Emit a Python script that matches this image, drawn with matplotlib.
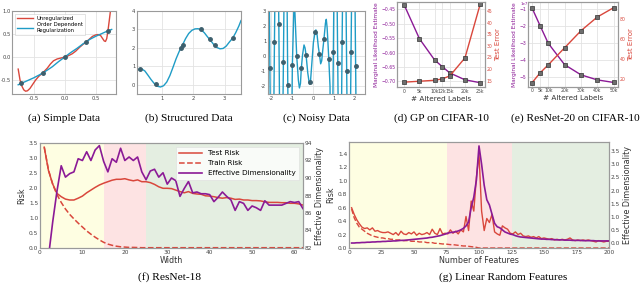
import matplotlib
matplotlib.use("Agg")
import matplotlib.pyplot as plt
import numpy as np
from matplotlib.ticker import FuncFormatter

# colours
RED = "#d9473c"
BLUE = "#1f9cc6"
PURPLE = "#8b1a96"
DOT = "#3d5f6d"
SPINE = "#9a9a9a"

# (a) simple data
a_pts_x = [-0.70, -0.35, 0.0, 0.35, 0.70]
a_pts_y = [-0.57, -0.34, 0.0, 0.33, 0.57]
a_red_x = [-0.75, -0.72, -0.69, -0.66, -0.63, -0.60, -0.56, -0.52, -0.47, -0.42, -0.37, -0.33,
           -0.28, -0.23, -0.18, -0.12, -0.06, 0.0, 0.06, 0.12, 0.18, 0.24, 0.30, 0.35, 0.40,
           0.45, 0.50, 0.54, 0.58, 0.61, 0.64, 0.66, 0.68, 0.70, 0.72, 0.74, 0.75]
a_red_y = [-0.26, -0.50, -0.63, -0.71, -0.74, -0.73, -0.68, -0.60, -0.50, -0.42, -0.36, -0.31,
           -0.24, -0.15, -0.08, -0.04, -0.02, 0.0, 0.03, 0.07, 0.13, 0.21, 0.28, 0.33, 0.39,
           0.45, 0.48, 0.49, 0.47, 0.41, 0.35, 0.34, 0.40, 0.57, 0.78, 1.0, 1.15]
a_blue_x = [-0.75, -0.70, -0.60, -0.50, -0.40, -0.35, -0.30, -0.20, -0.10, 0.0, 0.10, 0.20,
            0.30, 0.35, 0.40, 0.50, 0.60, 0.70, 0.76]
a_blue_y = [-0.60, -0.57, -0.51, -0.45, -0.38, -0.34, -0.30, -0.21, -0.10, 0.0, 0.10, 0.19,
            0.29, 0.33, 0.38, 0.45, 0.51, 0.57, 0.60]

# (b) structured data
b_pts_x = [0.30, 0.80, 1.60, 1.66, 2.23, 2.52, 2.68, 3.25]
b_pts_y = [0.88, 0.05, 1.97, 2.15, 3.00, 2.47, 2.13, 2.52]
b_curve_x = [0.2, 0.25, 0.3, 0.35, 0.45, 0.55, 0.65, 0.75, 0.85, 0.95, 1.05, 1.15, 1.25, 1.35,
             1.45, 1.55, 1.65, 1.75, 1.85, 1.95, 2.05, 2.15, 2.25, 2.35, 2.45, 2.55, 2.65,
             2.75, 2.85, 2.95, 3.05, 3.15, 3.25, 3.35, 3.45, 3.52]
b_curve_y = [0.76, 0.83, 0.87, 0.86, 0.75, 0.52, 0.28, 0.07, -0.08, -0.12, -0.05, 0.15, 0.5,
             0.95, 1.42, 1.82, 2.15, 2.5, 2.78, 2.95, 3.03, 3.04, 2.98, 2.82, 2.6, 2.4, 2.18,
             2.02, 1.95, 1.97, 2.1, 2.32, 2.52, 2.82, 3.18, 3.48]

# (c) noisy data
c_pts_x = [-2.07, -1.85, -1.64, -1.42, -1.21, -0.99, -0.78, -0.56, -0.33, -0.12, 0.10, 0.31,
           0.53, 0.76, 0.98, 1.19, 1.40, 1.62, 1.83, 2.05]
c_pts_y = [-0.77, 0.95, 2.15, -0.40, -1.91, -0.59, 0.0, -0.81, 0.07, -1.69, 1.60, 0.15, 1.16,
           -0.15, 0.29, -0.44, 0.95, -0.99, 0.29, -0.66]
c_curve_x = [-2.16, -2.07, -1.96, -1.85, -1.75, -1.64, -1.53, -1.42, -1.31, -1.21, -1.10,
             -0.99, -0.90, -0.78, -0.70, -0.65, -0.60, -0.56, -0.50, -0.43, -0.38, -0.33,
             -0.25, -0.17, -0.12, -0.05, 0.02, 0.10, 0.14, 0.20, 0.26, 0.31, 0.37, 0.42,
             0.47, 0.53, 0.60, 0.64, 0.68, 0.72, 0.76, 0.82, 0.87, 0.98, 1.08, 1.19, 1.30,
             1.40, 1.51, 1.62, 1.72, 1.83, 1.94, 2.05, 2.15]
c_curve_y = [15, -0.77, -15, 0.95, 15, 2.15, -15, -0.40, 15, -1.91, -15, -0.59, 4.0, 0.0,
             -1.6, -2.1, -1.8, -0.81, 0.1, 0.75, 0.55, 0.07, -1.1, -1.85, -1.69, -0.4, 0.9,
             1.6, 1.75, 1.4, 0.6, 0.15, -0.5, -0.3, 0.4, 1.16, 2.2, 2.45, 1.9, 0.9, -0.15,
             -2.0, -15, 0.29, 15, -0.44, -15, 0.95, 15, -0.99, -15, 0.29, 15, -0.66, -15]

# (d) GP on CIFAR-10
d_x = [0, 5000, 10000, 12500, 15000, 20000, 25000]
d_xlabels = ["0", "5k", "10k", "12k", "15k", "20k", "25k"]
d_mll = [-0.435, -0.552, -0.626, -0.649, -0.671, -0.695, -0.705]
d_err = [14.3, 14.7, 15.1, 15.7, 17.0, 24.8, 48.0]

# (e) ResNet-20 on CIFAR-10
e_x = [0, 5000, 10000, 20000, 30000, 40000, 50000]
e_xlabels = ["0", "5k", "10k", "20k", "30k", "40k", "50k"]
e_mll = [-0.94, -2.0, -3.04, -4.3, -4.9, -5.2, -5.35]  # x 1e7
e_err = [16.3, 26.3, 34.3, 51.3, 68.3, 82.0, 91.3]

# (f) ResNet-18
f_width = np.arange(1, 63)
f_test = [3.36, 2.58, 2.13, 1.82, 1.71, 1.63, 1.60, 1.60, 1.66, 1.73, 1.84, 1.93, 2.02, 2.10,
          2.16, 2.21, 2.26, 2.29, 2.29, 2.31, 2.27, 2.24, 2.27, 2.21, 2.21, 2.18, 2.12, 2.04,
          1.99, 1.99, 1.98, 1.93, 1.88, 1.84, 1.88, 1.82, 1.80, 1.79, 1.74, 1.73, 1.71, 1.68,
          1.66, 1.68, 1.66, 1.62, 1.63, 1.60, 1.60, 1.58, 1.58, 1.57, 1.54, 1.52, 1.52, 1.52,
          1.51, 1.51, 1.49, 1.49, 1.47, 1.43]
f_train = [3.36, 2.60, 2.12, 1.78, 1.52, 1.30, 1.12, 0.97, 0.83, 0.70, 0.57, 0.46, 0.36, 0.27,
           0.19, 0.13, 0.09, 0.06, 0.04, 0.03, 0.02, 0.02, 0.015, 0.01, 0.01, 0.01, 0.01, 0.01,
           0.01, 0.01, 0.01, 0.01, 0.01, 0.01, 0.01, 0.01, 0.01, 0.01, 0.01, 0.01, 0.01, 0.01,
           0.01, 0.01, 0.01, 0.01, 0.01, 0.01, 0.01, 0.01, 0.01, 0.01, 0.01, 0.01, 0.01, 0.01,
           0.01, 0.01, 0.01, 0.01, 0.01, 0.01]
f_ed = [77.5, 81.0, 85.0, 88.5, 91.4, 90.1, 90.5, 90.7, 92.2, 92.0, 93.0, 92.0, 93.2, 93.7,
        91.9, 90.7, 92.2, 91.8, 93.4, 92.0, 92.4, 92.0, 92.4, 90.7, 89.8, 90.8, 91.0, 90.1,
        90.6, 89.3, 90.0, 89.7, 87.9, 88.8, 89.6, 88.3, 88.4, 88.2, 88.2, 88.1, 87.3, 87.8,
        88.4, 87.9, 87.5, 86.3, 87.3, 87.1, 86.3, 86.8, 86.6, 86.3, 87.4, 86.9, 86.9, 86.9,
        86.9, 87.1, 87.3, 87.2, 87.3, 86.5]

# (g) linear random features
g_feat = np.arange(2, 201, 2)
g_test = [0.60, 0.50, 0.42, 0.36, 0.31, 0.29, 0.30, 0.27, 0.30, 0.25,
          0.26, 0.24, 0.23, 0.23, 0.24, 0.22, 0.20, 0.23, 0.19, 0.25,
          0.21, 0.20, 0.23, 0.21, 0.24, 0.19, 0.22, 0.20, 0.21, 0.23,
          0.20, 0.28, 0.22, 0.20, 0.29, 0.21, 0.22, 0.21, 0.27, 0.22,
          0.25, 0.21, 0.27, 0.24, 0.47, 0.26, 0.70, 0.55, 1.05, 1.40,
          0.55, 0.26, 0.44, 0.38, 0.50, 0.24, 0.21, 0.19, 0.33, 0.30,
          0.28, 0.22, 0.21, 0.24, 0.20, 0.22, 0.18, 0.17, 0.18, 0.16,
          0.17, 0.15, 0.17, 0.14, 0.15, 0.14, 0.13, 0.14, 0.12, 0.13,
          0.12, 0.13, 0.12, 0.13, 0.15, 0.12, 0.11, 0.12, 0.11, 0.12,
          0.11, 0.12, 0.11, 0.10, 0.09, 0.11, 0.10, 0.09, 0.10, 0.10]
g_train = [0.58, 0.45, 0.37, 0.31, 0.28, 0.25, 0.22, 0.20, 0.18, 0.17,
           0.16, 0.15, 0.15, 0.14, 0.14, 0.13, 0.13, 0.12, 0.12, 0.12,
           0.11, 0.11, 0.11, 0.10, 0.10, 0.10, 0.09, 0.09, 0.09, 0.08,
           0.08, 0.08, 0.07, 0.07, 0.065, 0.06, 0.06, 0.055, 0.05, 0.05,
           0.045, 0.04, 0.035, 0.03, 0.03, 0.025, 0.02, 0.015, 0.01, 0.0,
           0.0, 0.0, 0.0, 0.0, 0.0, 0.0, 0.0, 0.0, 0.0, 0.0,
           0.0, 0.0, 0.0, 0.0, 0.0, 0.0, 0.0, 0.0, 0.0, 0.0,
           0.0, 0.0, 0.0, 0.0, 0.0, 0.0, 0.0, 0.0, 0.0, 0.0,
           0.0, 0.0, 0.0, 0.0, 0.0, 0.0, 0.0, 0.0, 0.0, 0.0,
           0.0, 0.0, 0.0, 0.0, 0.0, 0.0, 0.0, 0.0, 0.0, 0.0]
g_ed = [0.0, 0.0, 0.01, 0.01, 0.02, 0.02, 0.03, 0.03, 0.04, 0.04,
        0.05, 0.05, 0.06, 0.06, 0.07, 0.07, 0.08, 0.08, 0.09, 0.10,
        0.10, 0.11, 0.12, 0.13, 0.14, 0.15, 0.16, 0.17, 0.18, 0.19,
        0.21, 0.22, 0.24, 0.26, 0.28, 0.31, 0.34, 0.38, 0.40, 0.41,
        0.43, 0.46, 0.50, 0.56, 0.65, 0.80, 1.35, 1.75, 2.40, 3.70,
        3.00, 2.20, 1.65, 1.45, 1.10, 0.75, 0.62, 0.58, 0.50, 0.42,
        0.38, 0.34, 0.32, 0.28, 0.25, 0.23, 0.22, 0.21, 0.20, 0.19,
        0.18, 0.17, 0.16, 0.15, 0.15, 0.14, 0.14, 0.13, 0.13, 0.12,
        0.12, 0.12, 0.11, 0.11, 0.11, 0.10, 0.10, 0.10, 0.10, 0.09,
        0.09, 0.09, 0.09, 0.09, 0.08, 0.08, 0.08, 0.08, 0.08, 0.08]

spans = [(0, 15, "#fefee2"), (15, 25, "#fde3e3"), (25, 62, "#e4eee1")]
g_spans = [(0, 75, "#fefee2"), (75, 125, "#fde3e3"), (125, 200, "#e4eee1")]

plt.rcParams["font.family"] = "DejaVu Sans"
plt.rcParams["axes.unicode_minus"] = False
W, H = 640, 285
fig = plt.figure(figsize=(6.4, 2.85), dpi=100)


def box(l, t, r, b):
    return [l / W, 1 - b / H, (r - l) / W, (b - t) / H]


def style(ax, grid=True, fs=3.8):
    for s in ax.spines.values():
        s.set_color(SPINE)
        s.set_linewidth(0.8)
    ax.tick_params(length=0, pad=1.2, labelsize=fs, colors="#444444")
    if grid:
        ax.grid(True, color="#e3e3e3", lw=0.6)
        ax.set_axisbelow(True)


# (a)
ax = fig.add_axes(box(12, 11, 116, 94))
style(ax)
ax.plot(a_red_x, a_red_y, color=RED, lw=1.0, label="Unregularized")
ax.plot(a_blue_x, a_blue_y, color=BLUE, lw=1.0, label="Order Dependent\nRegularization")
ax.plot(a_pts_x, a_pts_y, "o", color=DOT, ms=2.5, zorder=5)
ax.set_xlim(-0.85, 0.83)
ax.set_ylim(-0.8, 1.0)
ax.set_xticks([-0.5, 0.0, 0.5])
ax.set_yticks([-0.5, 0.0, 0.5, 1.0])
ax.tick_params(axis="y", pad=0.8)
leg = ax.legend(loc="upper left", fontsize=3.8, handlelength=3, frameon=True,
                borderpad=0.4, labelspacing=0.3, fancybox=False)
leg.get_frame().set_edgecolor("#cccccc")
leg.get_frame().set_linewidth(0.5)

# (b)
ax = fig.add_axes(box(137, 11, 241, 94))
style(ax)
ax.plot(b_curve_x, b_curve_y, color=BLUE, lw=1.0)
ax.plot(b_pts_x, b_pts_y, "o", color=DOT, ms=2.5, zorder=5)
ax.set_xlim(0.2, 3.52)
ax.set_ylim(-0.5, 4.0)
ax.set_xticks([1, 2, 3])
ax.set_yticks([0, 1, 2, 3, 4])

# (c)
ax = fig.add_axes(box(268, 11, 365, 94))
style(ax)
ax.plot(c_curve_x, c_curve_y, color=BLUE, lw=1.0)
ax.plot(c_pts_x, c_pts_y, "o", color=DOT, ms=2.5, zorder=5)
ax.set_xlim(-2.16, 2.5)
ax.set_ylim(-2.5, 3.0)
ax.set_xticks([-2, -1, 0, 1, 2])
ax.set_yticks([-2, -1, 0, 1, 2, 3])

mk = dict(marker="s", ms=3, mfc="#6e6e6e", mec="#333333", mew=0.5)

# (d)
ax = fig.add_axes(box(397, 2, 485, 87))
style(ax, fs=3.3)
ax.plot(d_x, d_mll, color=PURPLE, lw=1.0, **mk)
ax.set_xlim(-2400, 26600)
ax.set_ylim(-0.72, -0.424)
ax.set_xticks(d_x)
ax.set_xticklabels(d_xlabels)
ax.set_yticks([-0.70, -0.65, -0.60, -0.55, -0.50, -0.45])
ax.set_yticklabels(["\u22120.70", "\u22120.65", "\u22120.60", "\u22120.55", "\u22120.50", "\u22120.45"])
ax.tick_params(axis="y", colors=PURPLE)
ax.set_ylabel("Marginal Likelihood Estimate", fontsize=4.2, color=PURPLE, labelpad=1.5)
ax.set_xlabel("# Altered Labels", fontsize=5.2, color="#333333", labelpad=1.5)
ax2 = ax.twinx()
style(ax2, grid=False, fs=3.3)
ax2.plot(d_x, d_err, color=RED, lw=1.0, **mk)
ax2.set_ylim(12.2, 49.0)
ax2.set_yticks([15, 20, 25, 30, 35, 40, 45])
ax2.tick_params(axis="y", colors=RED)
ax2.set_ylabel("Test Error", fontsize=5, color=RED, labelpad=1.5)

# (e)
ax = fig.add_axes(box(528, 2, 618, 86.5))
style(ax, fs=3.3)
ax.plot(e_x, np.array(e_mll) * 1e7, color=PURPLE, lw=1.0, **mk)
ax.set_xlim(-2400, 52700)
ax.set_ylim(-5.59e7, -0.6e7)
ax.set_xticks(e_x)
ax.set_xticklabels(e_xlabels)
ax.set_yticks([-5e7, -4e7, -3e7, -2e7, -1e7])
ax.yaxis.set_major_formatter(FuncFormatter(lambda v, p: "\u2212%d" % round(-v / 1e7)))
ax.tick_params(axis="y", colors=PURPLE)
ax.text(0.0, 1.0, "1e7", transform=ax.transAxes, fontsize=2.8, color=PURPLE,
        ha="right", va="top")
ax.set_ylabel("Marginal Likelihood Estimate", fontsize=4.2, color=PURPLE, labelpad=1.5)
ax.set_xlabel("# Altered Labels", fontsize=5.2, color="#333333", labelpad=1.5)
ax2 = ax.twinx()
style(ax2, grid=False, fs=3.3)
ax2.plot(e_x, e_err, color=RED, lw=1.0, **mk)
ax2.set_ylim(12.7, 97)
ax2.set_yticks([20, 40, 60, 80])
ax2.tick_params(axis="y", colors=RED)
ax2.set_ylabel("Test Error", fontsize=5, color=RED, labelpad=1.5)

# (f)
ax = fig.add_axes(box(40, 143, 303, 248))
style(ax, grid=False, fs=4.2)
for lo, hi, c in spans:
    ax.axvspan(lo, hi, color=c, lw=0, zorder=0)
l1, = ax.plot(f_width, f_test, color=RED, lw=1.1, label="Test Risk")
l2, = ax.plot(f_width, f_train, color=RED, lw=1.1, ls="--", label="Train Risk")
ax.set_xlim(0, 62)
ax.set_ylim(0, 3.5)
ax.set_yticks(np.arange(0, 3.6, 0.5))
ax.set_xticks([0, 10, 20, 30, 40, 50, 60])
ax.set_xlabel("Width", fontsize=5.8, color="#333333", labelpad=1)
ax.set_ylabel("Risk", fontsize=5.8, color="#333333", labelpad=2)
ax2 = ax.twinx()
style(ax2, grid=False, fs=4.2)
l3, = ax2.plot(f_width, f_ed, color=PURPLE, lw=1.2, label="Effective Dimensionality")
ax2.set_ylim(82, 94)
ax2.set_yticks([82, 84, 86, 88, 90, 92, 94])
ax2.set_ylabel("Effective Dimensionality", fontsize=5.8, color="#333333", labelpad=2)
leg = ax2.legend([l1, l2, l3], ["Test Risk", "Train Risk", "Effective Dimensionality"],
                 loc="upper right", fontsize=5.2, handlelength=3.2, fancybox=False,
                 borderpad=0.5, labelspacing=0.55)
leg.get_frame().set_edgecolor("#dddddd")
leg.get_frame().set_linewidth(0.5)

# (g)
ax = fig.add_axes(box(349, 142, 609, 248))
style(ax, grid=False, fs=4.2)
for lo, hi, c in g_spans:
    ax.axvspan(lo, hi, color=c, lw=0, zorder=0)
ax.plot(g_feat, g_test, color=RED, lw=1.0)
ax.plot(g_feat, g_train, color=RED, lw=1.0, ls="--")
ax.set_xlim(0, 200)
ax.set_ylim(0, 1.58)
ax.set_yticks(np.arange(0, 1.41, 0.2))
ax.set_xticks([0, 25, 50, 75, 100, 125, 150, 175, 200])
ax.set_xlabel("Number of Features", fontsize=5.8, color="#333333", labelpad=1)
ax.set_ylabel("Risk", fontsize=5.8, color="#333333", labelpad=2)
ax2 = ax.twinx()
style(ax2, grid=False, fs=4.2)
ax2.plot(g_feat, g_ed, color=PURPLE, lw=1.2)
ax2.set_ylim(-0.19, 3.85)
ax2.set_yticks(np.arange(0, 3.6, 0.5))
ax2.set_ylabel("Effective Dimensionality", fontsize=5.8, color="#333333", labelpad=2)

# captions
cap = dict(fontsize=8.2, family="Liberation Serif", ha="center", va="center")
fig.text(64 / W, 1 - 118 / H, "(a) Simple Data", **cap)
fig.text(189 / W, 1 - 118 / H, "(b) Structured Data", **cap)
fig.text(316 / W, 1 - 118 / H, "(c) Noisy Data", **cap)
fig.text(441 / W, 1 - 118 / H, "(d) GP on CIFAR-10", **cap)
fig.text(575 / W, 1 - 118 / H, "(e) ResNet-20 on CIFAR-10", **cap)
fig.text(170 / W, 1 - 277 / H, "(f) ResNet-18", **cap)
fig.text(503 / W, 1 - 277 / H, "(g) Linear Random Features", **cap)

fig.savefig("out.png", dpi=100)
